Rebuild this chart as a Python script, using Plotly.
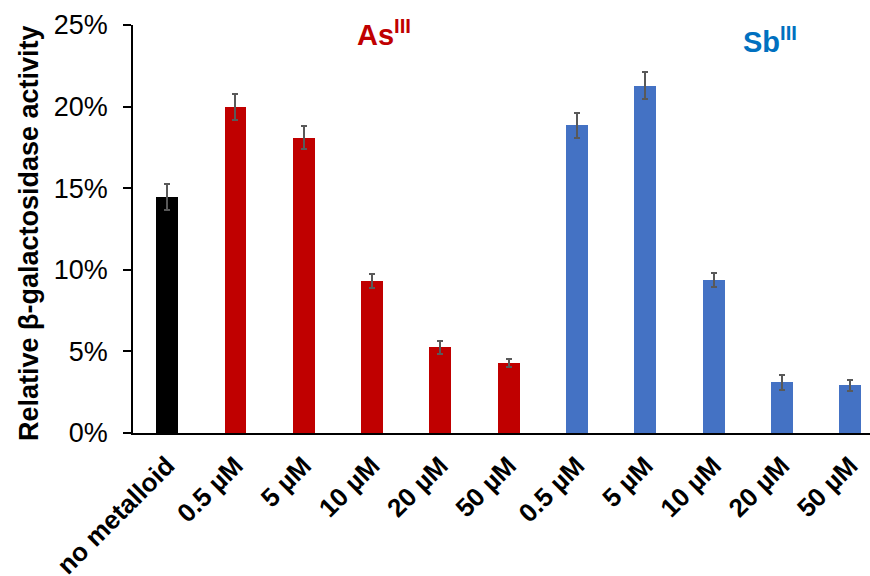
import plotly.graph_objects as go

# Conditions, mean activity (%) and standard deviation
labels = ["no metalloid", "0.5 µM", "5 µM", "10 µM", "20 µM", "50 µM",
          "0.5 µM", "5 µM", "10 µM", "20 µM", "50 µM"]
activity = [14.45, 20.0, 18.1, 9.3, 5.25, 4.27, 18.85, 21.27, 9.37, 3.1, 2.92]
error = [0.78, 0.8, 0.72, 0.42, 0.4, 0.25, 0.78, 0.82, 0.45, 0.45, 0.35]
groups = ["none", "As", "As", "As", "As", "As", "Sb", "Sb", "Sb", "Sb", "Sb"]
y_ticks = [0, 5, 10, 15, 20, 25]

group_colors = {"none": "#000000", "As": "#C00000", "Sb": "#4472C4"}
positions = list(range(len(labels)))

FONT = "Arial, Liberation Sans, sans-serif"

fig = go.Figure(
    go.Bar(
        x=positions,
        y=activity,
        width=0.32,
        marker=dict(color=[group_colors[g] for g in groups], line=dict(width=0)),
        error_y=dict(type="data", array=error, visible=True,
                     color="#595959", thickness=2, width=3),
        showlegend=False,
    )
)

fig.update_layout(
    width=870,
    height=576,
    margin=dict(l=133, r=0, t=25, b=143),
    plot_bgcolor="white",
    paper_bgcolor="white",
    bargap=0,
    xaxis=dict(
        range=[-0.5, 10.29],
        tickmode="array",
        tickvals=positions,
        ticktext=labels,
        tickangle=-45,
        tickfont=dict(family=FONT, size=26, color="black", weight="bold"),
        showline=True,
        linecolor="black",
        linewidth=2,
        ticks="",
        showgrid=False,
        zeroline=False,
        ticklabelstandoff=5,
        automargin=False,
    ),
    yaxis=dict(
        range=[0, 25],
        tickmode="array",
        tickvals=y_ticks,
        ticktext=[f"{v}%" for v in y_ticks],
        tickfont=dict(family=FONT, size=27, color="black"),
        showline=True,
        linecolor="black",
        linewidth=1.5,
        ticks="outside",
        ticklen=8,
        tickcolor="black",
        tickwidth=1.5,
        showgrid=False,
        zeroline=False,
        ticklabelstandoff=10,
        automargin=False,
    ),
    annotations=[
        dict(text="<b>Relative β-galactosidase activity</b>", xref="paper", yref="paper",
             x=(29 - 133) / 737, y=0.49, textangle=-90, showarrow=False,
             font=dict(family=FONT, size=27, color="black"),
             xanchor="center", yanchor="middle"),
        dict(text="<b>As<sup>III</sup></b>", xref="paper", yref="paper",
             x=(384 - 133) / 737, y=1 - (33 - 25) / 408, showarrow=False,
             font=dict(family=FONT, size=29, color="#C00000"),
             xanchor="center", yanchor="middle"),
        dict(text="<b>Sb<sup>III</sup></b>", xref="paper", yref="paper",
             x=(770 - 133) / 737, y=1 - (40 - 25) / 408, showarrow=False,
             font=dict(family=FONT, size=29, color="#0070C0"),
             xanchor="center", yanchor="middle"),
    ],
)

fig.write_html("out.html")
